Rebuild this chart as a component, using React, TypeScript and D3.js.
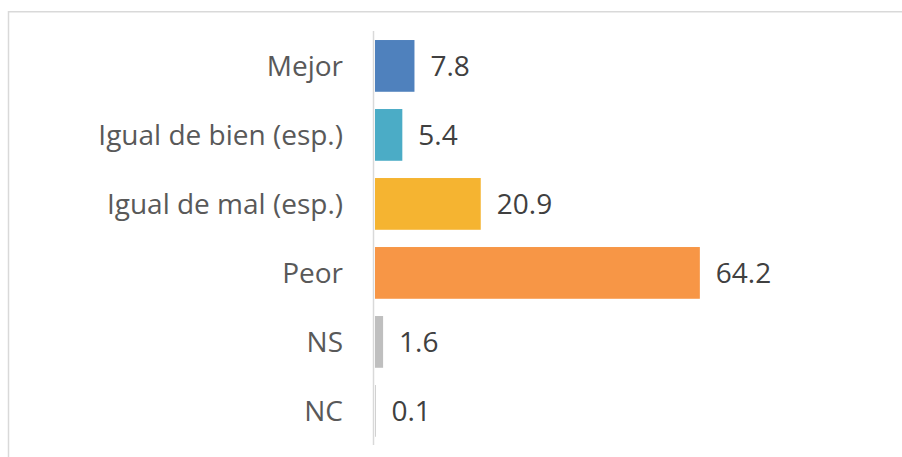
import React from "react";
import * as d3 from "d3";

const categories = ["Mejor", "Igual de bien (esp.)", "Igual de mal (esp.)", "Peor", "NS", "NC"];
const values = [7.8, 5.4, 20.9, 64.2, 1.6, 0.1];
const colors = ["#4f81bd", "#4bacc6", "#f5b431", "#f79646", "#bfbfbf", "#a5a5a5"];

const W = 902;
const H = 457;

export default function App() {
  const x = d3.scaleLinear().domain([0, 70]).range([375, 375 + 70 * 5.06]);
  const y = d3.scaleBand<string>().domain(categories).range([31.4, 445.4]).paddingInner(0.25).paddingOuter(0.125);
  const font = "'Open Sans', sans-serif";
  return (
    <svg width={W} height={H} style={{ position: "absolute", left: 0, top: 0, background: "#fff" }}>
      <rect x={8.5} y={11.75} width={W + 20} height={H + 20} fill="#fff" stroke="#d9d9d9" strokeWidth={1.5} />
      {categories.map((c, i) => {
        const yy = y(c)!;
        const bw = y.bandwidth();
        const cy = yy + bw / 2;
        return (
          <g key={c}>
            <rect x={x(0)} y={yy} width={Math.max(0, x(values[i]) - x(0))} height={bw} fill={colors[i]} />
            <text x={343} y={cy} dy="0.36em" textAnchor="end" fontFamily={font} fontSize={28} fill="#595959">
              {c}
            </text>
            <text x={x(values[i]) + 16} y={cy} dy="0.36em" textAnchor="start" fontFamily={font} fontSize={28} fill="#404040">
              {d3.format(".1f")(values[i])}
            </text>
          </g>
        );
      })}
      <line x1={373.5} x2={373.5} y1={31} y2={445} stroke="#d9d9d9" strokeWidth={1.5} />
    </svg>
  );
}
